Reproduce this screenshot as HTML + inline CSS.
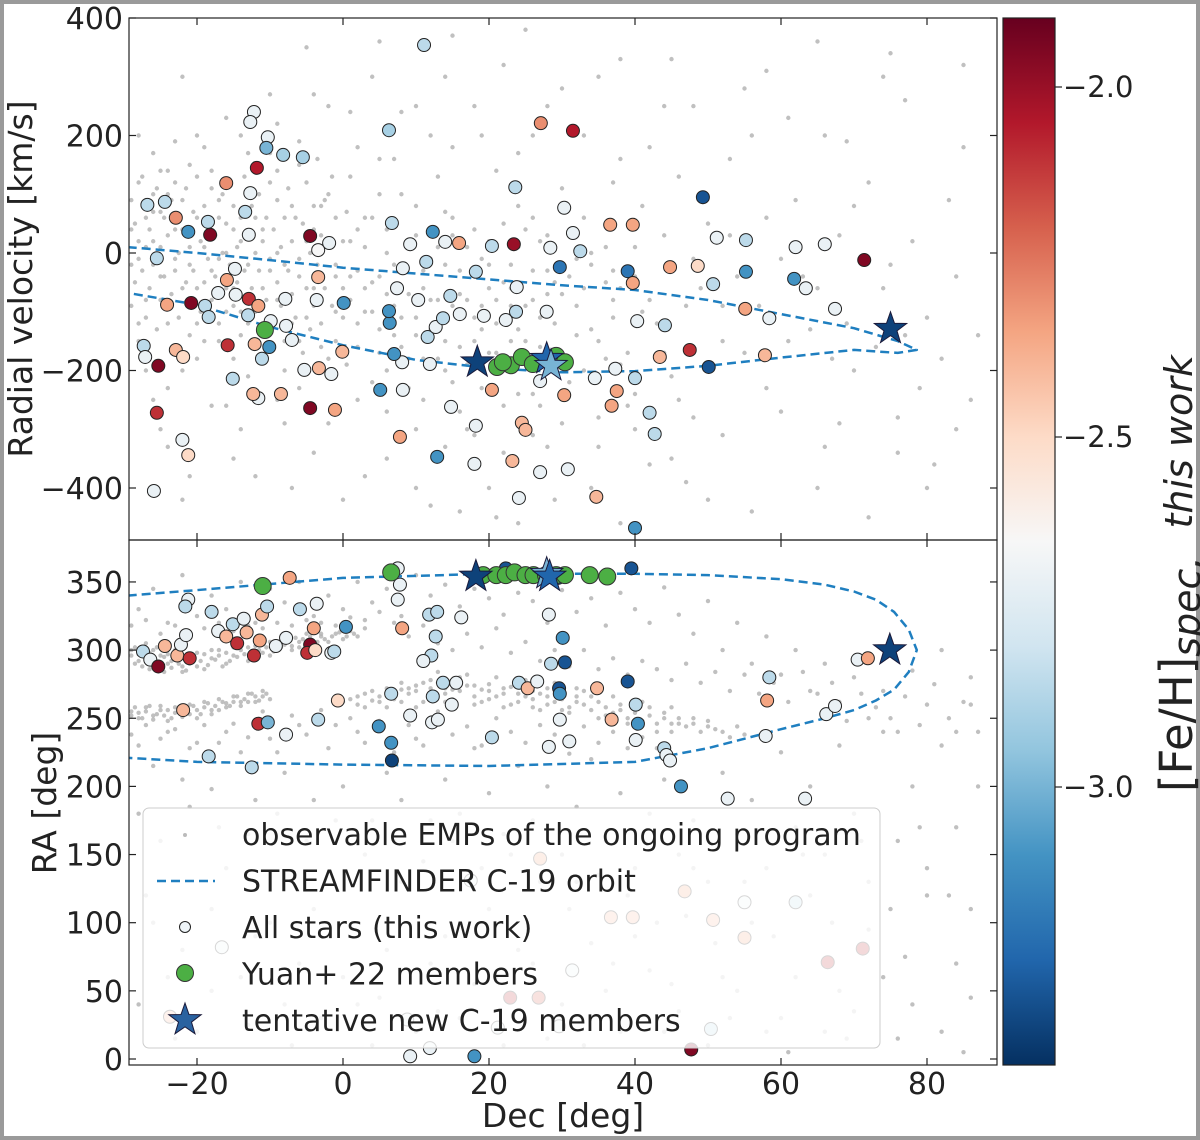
<!DOCTYPE html>
<html><head><meta charset="utf-8"><style>
html,body{margin:0;padding:0;background:#fff}
#wrap{width:1200px;height:1140px;position:relative;box-sizing:border-box;border:4px solid #9a9a9a;background:#fff}
svg{position:absolute;left:-4px;top:-4px}
text{font-family:"DejaVu Sans","Liberation Sans",sans-serif;fill:#222}
</style></head><body>
<div id="wrap">
<svg id="chart" width="1200" height="1140"></svg>
</div>
<script>
// ---------- data ----------
const xTicks=[-20,0,20,40,60,80];
const rvTicks=[400,200,0,-200,-400];
const raTicks=[350,300,250,200,150,100,50,0];
const cbTicks=[-2.0,-2.5,-3.0];
const cbTickLabels=["\u22122.0","\u22122.5","\u22123.0"];
// top panel coloured stars: [dec, rv, feh]
const topStars=[[11.1,354,-2.85],[-12.2,240,-2.7],[-12.7,223,-2.7],[-10.3,197,-2.7],[-10.5,179,-3.0],[-8.2,167,-2.9],[-5.5,163,-2.9],[-11.8,145,-2.05],[-16,119,-2.3],[-12.7,102,-2.7],[6.3,209,-2.9],[27.1,221,-2.3],[31.5,208,-2.05],[23.6,112,-2.85],[30.3,77,-2.7],[49.3,95,-3.3],[-26.8,82,-2.85],[-24.4,87,-2.85],[-22.9,60,-2.3],[-18.5,53,-2.85],[-21.2,36,-3.1],[-18.2,31,-1.95],[-13.4,70,-2.85],[-12.9,31,-2.7],[-4.5,29,-1.95],[-1.9,17,-2.7],[-3.4,5,-2.65],[6.7,51,-2.85],[12.3,36,-3.1],[9.2,15,-2.7],[14,19,-2.7],[15.9,17,-2.35],[20.4,12,-2.85],[23.4,15,-2.0],[28.4,9,-2.7],[31.5,34,-2.7],[36.6,48,-2.35],[39.7,48,-2.35],[32.5,3,-2.85],[29.7,-24,-3.2],[39,-31,-3.2],[39.7,-51,-2.35],[44.8,-24,-2.35],[48.6,-22,-2.5],[51.2,26,-2.7],[50.7,-53,-2.85],[55.2,22,-2.85],[55.2,-32,-3.1],[62,10,-2.7],[66,15,-2.7],[61.8,-44,-3.1],[63.4,-60,-2.7],[71.4,-12,-1.95],[67.4,-95,-2.7],[58.4,-111,-2.7],[55.1,-95,-2.35],[44.1,-123,-2.85],[40.3,-116,-2.7],[47.5,-165,-2.1],[43.4,-177,-2.4],[57.8,-174,-2.4],[50.1,-194,-3.3],[40,-213,-2.85],[37.3,-197,-2.7],[34.5,-213,-2.7],[37.5,-235,-2.35],[36.8,-260,-2.35],[42,-272,-2.85],[42.7,-308,-2.85],[30.3,-242,-2.35],[27,-218,-2.7],[30.8,-368,-2.7],[27,-373,-2.7],[34.7,-415,-2.4],[24.1,-417,-2.7],[23.2,-354,-2.4],[24.5,-289,-2.4],[25,-301,-2.4],[20.4,-233,-2.35],[18.2,-294,-2.7],[18,-359,-2.7],[12.9,-347,-3.1],[14.8,-262,-2.7],[11.9,-189,-2.7],[5.1,-233,-3.1],[8.2,-233,-2.7],[8.1,-186,-2.7],[7,-172,-3.1],[11.6,-143,-2.85],[12.7,-126,-2.7],[6.4,-119,-3.1],[6.3,-99,-3.1],[7.4,-60,-2.7],[10.3,-80,-2.7],[13.7,-111,-2.85],[16,-104,-2.7],[19.3,-107,-2.7],[22.3,-114,-2.7],[23.7,-100,-2.85],[18.2,-32,-2.85],[23.8,-58,-2.7],[27.9,-100,-2.7],[11.4,-15,-2.85],[8.2,-26,-2.7],[14.7,-73,-2.85],[0.1,-85,-3.1],[-3.4,-41,-2.4],[-3.6,-80,-2.7],[-7.9,-78,-2.7],[-7.8,-124,-2.7],[-9.9,-116,-2.7],[-12.9,-78,-2.1],[-11.6,-90,-2.35],[-13,-106,-2.85],[-14.7,-71,-2.7],[-15.9,-46,-2.35],[-17.1,-68,-2.7],[-14.8,-27,-2.7],[-20.8,-85,-1.95],[-24.1,-88,-2.35],[-18.9,-90,-2.85],[-18.4,-109,-2.85],[-25.5,-9,-2.85],[-27.3,-158,-2.85],[-27.1,-177,-2.7],[-22.9,-165,-2.4],[-21.9,-177,-2.5],[-25.3,-192,-1.95],[-25.5,-272,-2.1],[-22,-318,-2.7],[-21.2,-344,-2.5],[-25.9,-405,-2.7],[-15.8,-157,-2.1],[-12.1,-155,-2.4],[-11.1,-180,-2.85],[-15.1,-214,-2.85],[-11.6,-247,-2.7],[-12.3,-240,-2.4],[-8.5,-240,-2.4],[-10.1,-160,-3.1],[-5.3,-199,-2.7],[-4.5,-264,-1.95],[-1.1,-267,-2.35],[-3.3,-196,-2.4],[-0.1,-168,-2.4],[-1.6,-206,-2.7],[7.8,-313,-2.35],[-7,-148,-2.7],[40,-468,-3.1]];
const topYuan=[[-10.7,-131],[21.1,-194],[23,-191],[24.5,-177],[21.9,-186],[26,-189],[29.2,-175],[30.4,-186]];
const topNew=[[18.4,-186,-3.35],[27.9,-180,-3.25],[28.5,-192,-3.0],[75,-129,-3.35]];
// bottom panel coloured stars: [dec, ra, feh]
const botStars=[[-27.4,299,-2.85],[-26.4,293,-2.7],[-25.3,288,-1.95],[-24.4,303,-2.4],[-22.7,296,-2.4],[-22.2,304,-2.7],[-21.5,311,-2.7],[-21,294,-2.1],[-21.2,337,-2.7],[-18,328,-2.85],[-17.1,314,-2.7],[-16,310,-2.4],[-15.1,319,-2.85],[-14.5,305,-2.1],[-13.6,323,-2.7],[-13.2,313,-2.4],[-12.2,296,-2.1],[-11.4,307,-2.35],[-11.1,326,-2.4],[-9.2,303,-2.7],[-7.8,309,-2.7],[-7.3,353,-2.35],[-5.9,330,-2.85],[-4,316,-2.35],[-4.5,304,-1.95],[-4.9,298,-2.1],[-3.8,300,-2.5],[-1.6,298,-2.7],[-1.2,299,-2.85],[0.4,317,-3.1],[-3.6,334,-2.7],[-10.4,332,-2.85],[-21.6,332,-2.85],[-21.9,256,-2.4],[-11.6,246,-2.1],[-10.3,247,-3.0],[-3.4,249,-2.85],[-7.8,238,-2.7],[-12.5,214,-2.85],[-18.4,222,-2.85],[-0.7,263,-2.5],[4.9,244,-3.1],[6.6,232,-3.1],[6.7,219,-3.35],[6.6,268,-2.85],[7.5,337,-2.7],[7.8,348,-2.7],[7.5,360,-2.7],[8.1,316,-2.35],[11.8,326,-2.85],[12.9,328,-2.85],[12.7,310,-2.85],[12.1,296,-2.85],[11,292,-2.7],[12.3,266,-2.85],[12.2,247,-2.7],[13,249,-2.7],[14.9,260,-2.7],[13.7,276,-2.85],[15.5,276,-2.7],[9.2,252,-2.7],[20.4,236,-2.85],[24.1,276,-2.85],[25.3,272,-2.4],[26.6,277,-2.7],[29.6,272,-3.3],[29.7,268,-3.1],[29.7,249,-2.7],[28.2,229,-2.7],[31,233,-2.7],[34.8,272,-2.4],[39,277,-3.3],[36.8,249,-2.4],[40.1,260,-2.85],[40.4,246,-3.1],[40.1,234,-2.7],[44,228,-2.85],[44.3,223,-2.7],[44.8,219,-2.7],[46.3,200,-3.1],[58.1,263,-2.35],[58.4,280,-2.85],[57.9,237,-2.7],[66.2,253,-2.7],[67.4,259,-2.7],[70.5,293,-2.7],[71.9,294,-2.35],[30.1,309,-3.1],[28.5,290,-2.85],[30.4,291,-3.3],[28.2,326,-2.7],[16.2,324,-2.7],[39.5,360,-3.3],[22.3,360,-3.3],[29.5,353,-3.3],[63.3,191,-2.7],[52.7,191,-2.7],[27,147,-2.35],[17.5,131,-2.7],[46.8,123,-2.35],[55,115,-2.7],[62,115,-2.85],[55,89,-2.35],[71.2,81,-2.1],[66.4,71,-2.1],[36.7,104,-2.4],[39.7,104,-2.4],[50.7,102,-2.4],[31.4,65,-2.7],[22.9,45,-2.1],[26.8,45,-2.2],[-23.7,31,-2.4],[-16.6,82,-2.7],[50.4,22,-2.85],[47.7,7,-1.95],[9.2,2,-2.7],[18,2,-3.1],[21.2,23,-2.7],[29.6,24,-2.7],[8.8,29,-2.7],[11.9,8,-2.7]];
const botYuan=[[-11,347],[6.6,357],[19.2,355],[21,355],[22.3,355],[23.5,357],[25,355],[26.1,355],[27.8,355],[29.2,355],[30.4,355],[33.8,355],[36.2,354]];
const botNew=[[18.2,354,-3.35],[27.9,356,-3.0],[28.3,354,-3.25],[74.9,300,-3.35]];
// orbit in both panels
const orbitTopDec=[-29.5,-20,-10,0,10,20,30,40,50,60,70,76,78.6,76,70,60,50,40,30,20,10,0,-10,-20,-29.5];
const orbitTopRv=[10,0,-12,-25,-35,-45,-55,-63,-80,-104,-128,-150,-165,-170,-165,-178,-192,-201,-203,-196,-182,-157,-126,-88,-68];
const orbitBotDec=[-29.5,-20,0,20,40,50,60,66,70,73,75.5,77.5,78.6,77.5,75.5,73,70,66,60,50,40,20,0,-20,-29.5];
const orbitBotRa=[340,344,353,356,356,355,352,348,343,337,328,315,300,284,271,263,256,250,242,228,218,215,216,218,221];
// background observable EMPs (dec, value)
const grayTop=[[-28,120],[-27,60],[-26,20],[-25,-40],[-24,100],[-23,-10],[-22,-60],[-21,150],[-20,-120],[-19,10],[-18,-30],[-17,90],[-16,-100],[-15,40],[-14,-140],[-13,-20],[-12,60],[-11,-60],[-10,120],[-9,0],[-8,-200],[-7,80],[-6,-40],[-5,-110],[-4,40],[-3,-160],[-2,100],[-1,-20],[0,-60],[1,20],[2,-120],[3,60],[4,-220],[5,-40],[6,0],[7,-140],[8,100],[9,-70],[10,30],[11,-250],[12,-10],[13,-180],[14,70],[15,-90],[16,-30],[17,-300],[18,40],[19,-130],[20,-60],[21,140],[22,-260],[23,-20],[24,80],[25,-150],[26,-80],[27,20],[28,-330],[29,-50],[30,110],[31,-220],[32,-10],[33,60],[34,-130],[35,-280],[36,10],[37,-80],[38,160],[39,-170],[40,-40],[41,80],[42,-360],[43,-120],[44,30],[45,-210],[46,130],[47,-90],[48,-280],[50,50],[52,-150],[54,-40],[56,200],[58,-230],[60,-10],[62,90],[64,-130],[66,-330],[68,30],[70,-200],[72,120],[74,-60],[76,-280],[78,20],[80,-110],[82,-180],[84,-40],[86,-250],[-28,-150],[-26,-250],[-24,-330],[-22,-420],[-20,200],[-18,-260],[-16,230],[-14,-300],[-12,-380],[-10,270],[-8,-290],[-6,190],[-4,-340],[-2,250],[0,-420],[2,180],[4,300],[6,-350],[8,240],[10,-400],[12,200],[14,300],[16,-440],[18,250],[20,-400],[22,320],[24,-460],[26,200],[30,280],[34,-400],[38,330],[44,250],[50,-420],[58,310],[66,200],[74,300],[80,-400],[-27,-80],[-25,70],[-21,-20],[-17,-150],[-15,-60],[-13,170],[-9,-80],[-7,-120],[-5,20],[-1,-100],[3,-60],[7,-20],[9,-180],[13,10],[17,-80],[19,-10],[23,-90],[27,-110],[29,-200],[31,40],[33,-60],[37,-30],[41,-100],[45,-20],[49,-60],[53,30],[57,-90],[61,-150],[65,-60],[69,-120],[73,-160],[77,-140],[-29,40],[-28,-10],[-27,10],[-26,100],[-25,140],[-24,-120],[-23,40],[-22,-200],[-20,60],[-19,-50],[-18,110],[-17,-10],[-16,0],[-15,-180],[-14,20],[-12,-150],[-11,40],[-10,-30],[-9,90],[-8,-20],[-6,-150],[-4,-60],[-3,80],[-1,60],[1,-40],[2,40],[4,-100],[5,-170],[6,-70],[8,-110],[10,-140],[11,-30],[12,-80],[14,-200],[15,30],[16,-160],[18,-110],[20,-20],[21,-170],[22,-50],[24,-130],[25,40],[26,-240],[28,-30],[30,-70],[32,-140],[34,-20],[36,-180],[38,-60],[40,-240]];
const grayTop2=[[-29,90],[-29,-20],[-29,-90],[-28.5,50],[-28.5,-50],[-28,20],[-28,-120],[-27.5,130],[-27.5,-30],[-27,90],[-27,-110],[-26.5,40],[-26.5,-60],[-26,70],[-26,-20],[-25.5,110],[-25.5,-130],[-25,10],[-25,-80],[-24.5,60],[-24.5,-40],[-24,30],[-24,140],[-23.5,-70],[-23.5,90],[-23,-30],[-23,120],[-22.5,0],[-22.5,-110],[-22,40],[-22,90],[-21.5,-50],[-21.5,110],[-21,10],[-21,-140],[-20.5,70],[-20.5,-30],[-20,-60],[-20,130],[-19.5,20],[-19.5,-100],[-19,80],[-19,-150],[-18.5,-10],[-18.5,60],[-18,-80],[-18,140],[-17.5,30],[-17.5,-40],[-17,-120],[-17,60],[-16.5,0],[-16.5,100],[-16,-60],[-16,50],[-15.5,-20],[-15.5,120],[-15,-90],[-15,80],[-14.5,10],[-14.5,-50],[-14,60],[-14,-100],[-13.5,-30],[-13.5,130],[-13,30],[-13,-120],[-12.5,-60],[-12.5,80],[-12,0],[-12,-100],[-11.5,100],[-11.5,-30],[-11,20],[-11,-140],[-10.5,60],[-10.5,-80],[-10,-10],[-10,170],[-9.5,40],[-9.5,-120],[-9,-50],[-9,140],[-8.5,10],[-8.5,-90],[-8,60],[-8,-150],[-7.5,-30],[-7.5,110],[-7,20],[-7,-70],[-6.5,-110],[-6.5,60],[-6,-10],[-6,150],[-5.5,-170],[-5.5,50],[-5,-60],[-5,120],[-4.5,-130],[-4.5,0],[-4,-90],[-4,80],[-3.5,-20],[-3.5,160],[-3,-120],[-3,30],[-2.5,-60],[-2.5,90],[-2,-180],[-2,10],[-1.5,-90],[-1.5,130],[-1,-40],[-1,-150],[0,20],[0,-110],[0.5,70],[0.5,-190],[1,-80],[1,130],[2,-30],[2,-160],[3,10],[3,-100],[4,60],[4,-50],[5,-130],[5,100],[6,-200],[6,40],[7,-90],[7,160],[8,-30],[8,-160],[9,10],[9,-230],[10,-110],[10,80],[11,-60],[11,-180],[12,30],[12,-130],[13,-80],[13,130],[14,-20],[14,-150],[15,-220],[15,60],[16,-70],[16,-270],[17,10],[17,-190],[18,-150],[18,-40],[19,-90],[19,-230],[20,20],[20,-170],[21,-80],[21,-120],[22,50],[22,-200],[23,-150],[23,-60],[24,10],[24,-240],[25,-90],[25,-190],[26,-30],[26,60],[27,-160],[27,-260],[28,-70],[28,30],[29,-120],[30,-180],[31,-40],[32,-90],[33,-200],[34,0],[35,-150],[36,-50],[37,-110],[38,-190],[39,-260],[40,10],[42,-80],[44,-170],[46,-250],[48,-10],[52,-90],[55,-170],[58,60],[63,-40],[67,-180],[70,80],[75,-20],[79,-230],[83,90],[87,-140],[-28,200],[-26,170],[-23,190],[-19,180],[-14,200],[-9,220],[-4,270],[1,240],[5,160],[10,250],[15,180],[19,200],[24,170],[28,250],[33,200],[37,120],[42,180],[48,250],[53,160],[61,230],[69,190],[77,260],[85,180],[-27,-200],[-24,-230],[-20,-180],[-16,-260],[-13,-210],[-9,-250],[-6,-230],[-2,-290],[2,-250],[6,-270],[10,-300],[14,-330],[18,-310],[22,-340],[26,-310],[30,-290],[35,-330],[40,-300],[45,-350],[52,-310],[60,-270],[68,-290],[76,-340],[84,-300],[-25,-300],[-21,-380],[-15,-350],[-7,-400],[3,-380],[12,-430],[21,-450],[29,-420],[38,-460],[47,-390],[56,-440],[65,-400],[72,-450],[81,-360],[5,360],[25,380],[45,330],[65,360],[85,320],[-22,300],[-5,350],[15,370],[35,300],[55,280],[75,340]];
const grayBot=[[-29,300],[-28,292],[-27,305],[-26,288],[-25,296],[-24,290],[-23,300],[-22,284],[-21,292],[-20,298],[-19,286],[-18,294],[-17,300],[-16,290],[-15,296],[-14,304],[-13,292],[-12,298],[-11,306],[-10,296],[-9,302],[-8,308],[-7,300],[-6,306],[-5,312],[-4,302],[-3,310],[-2,306],[-1,312],[0,308],[1,314],[2,310],[3,316],[-29,255],[-28,250],[-27,258],[-26,252],[-25,256],[-24,248],[-23,258],[-22,254],[-21,260],[-20,250],[-19,262],[-18,256],[-17,264],[-16,258],[-15,266],[-14,262],[-13,268],[-12,262],[-11,270],[-10,264],[0,262],[2,266],[4,270],[6,272],[8,276],[10,274],[12,278],[14,272],[16,276],[18,274],[20,270],[22,272],[24,268],[26,270],[28,266],[30,264],[32,262],[34,266],[36,258],[38,256],[40,254],[42,258],[44,250],[46,246],[48,250],[50,244],[52,240],[3,258],[5,262],[7,264],[9,268],[11,262],[13,284],[15,264],[17,282],[19,262],[21,280],[23,260],[25,278],[27,256],[29,276],[31,254],[33,270],[35,250],[37,266],[39,246],[41,262],[43,240],[45,258],[-28,230],[-26,215],[-24,240],[-22,205],[-20,232],[-18,198],[-16,240],[-14,225],[-12,190],[-10,235],[-8,210],[-6,245],[-4,190],[-2,228],[0,200],[2,240],[4,175],[6,210],[8,190],[10,235],[12,175],[14,205],[16,180],[18,228],[20,195],[22,165],[24,215],[26,175],[28,200],[30,150],[32,185],[34,220],[36,160],[38,195],[40,140],[42,180],[44,205],[46,150],[48,175],[50,130],[52,210],[54,165],[56,190],[58,140],[60,225],[62,170],[64,200],[66,150],[68,230],[70,180],[72,130],[74,240],[76,160],[78,200],[80,120],[82,230],[84,170],[86,260],[-28,330],[-26,345],[-24,320],[-22,355],[-20,325],[-18,340],[-16,330],[-14,350],[-12,320],[-10,345],[-8,335],[-6,350],[-4,325],[-2,340],[0,330],[2,350],[4,335],[6,345],[8,325],[10,355],[12,340],[14,348],[16,332],[18,345],[20,338],[22,326],[24,342],[26,336],[28,320],[30,344],[32,328],[34,338],[36,318],[38,342],[40,330],[42,320],[44,346],[46,326],[48,312],[50,336],[52,300],[54,320],[56,290],[58,310],[60,282],[62,300],[64,270],[66,290],[68,262],[70,280],[72,250],[74,270],[76,240],[78,285],[80,260],[82,300],[84,240],[86,280],[-27,120],[-24,60],[-20,20],[-16,140],[-12,90],[-8,40],[-4,110],[0,60],[4,10],[8,130],[12,70],[16,30],[20,110],[24,80],[28,15],[32,130],[36,50],[40,90],[44,20],[48,140],[52,60],[56,100],[60,30],[64,120],[68,50],[72,95],[76,15],[80,140],[84,70],[86,110]];
const grayBot2=[[-29,296],[-28.5,290],[-28.5,302],[-28,297],[-27.5,288],[-27.5,300],[-27,294],[-26.5,298],[-26.5,286],[-26,300],[-25.5,291],[-25.5,302],[-25,289],[-24.5,295],[-24.5,284],[-24,297],[-23.5,292],[-23.5,287],[-23,295],[-22.5,290],[-22.5,299],[-22,288],[-21.5,296],[-21.5,285],[-21,290],[-20.5,295],[-20,288],[-19.5,292],[-19,297],[-18.5,289],[-18,300],[-17.5,293],[-17,296],[-16.5,288],[-16,298],[-15.5,292],[-15,302],[-14.5,295],[-14,300],[-13.5,297],[-13,302],[-12.5,294],[-12,303],[-11.5,300],[-11,298],[-10.5,302],[-10,306],[-9.5,299],[-9,305],[-8.5,302],[-8,304],[-7.5,306],[-7,303],[-6.5,309],[-6,302],[-5.5,308],[-5,305],[-4.5,310],[-3.5,306],[-3,312],[-2.5,308],[-1.5,310],[-0.5,313],[0.5,310],[1.5,312],[-29,252],[-28.5,258],[-28,254],[-27.5,250],[-27,255],[-26.5,259],[-26,249],[-25.5,253],[-25,259],[-24.5,252],[-24,256],[-23.5,250],[-23,254],[-22.5,258],[-22,251],[-21.5,256],[-21,253],[-20.5,259],[-20,256],[-19.5,253],[-19,258],[-18.5,261],[-18,253],[-17.5,259],[-17,256],[-16.5,262],[-16,261],[-15.5,259],[-15,262],[-14.5,266],[-14,259],[-13.5,264],[-13,262],[-12.5,268],[-12,266],[-11.5,263],[-11,266],[-10.5,268],[1,264],[2,260],[3,268],[4,263],[5,266],[6,268],[7,270],[8,271],[9,272],[10,270],[11,276],[12,272],[13,276],[14,268],[15,271],[16,270],[17,274],[18,266],[19,271],[20,275],[21,266],[22,268],[23,273],[24,262],[25,266],[26,264],[27,268],[28,260],[29,262],[30,268],[31,258],[32,266],[33,260],[34,256],[35,262],[36,252],[37,254],[38,260],[39,250],[40,258],[41,248],[42,252],[43,246],[44,254],[45,246],[46,250],[47,244],[48,246],[49,240],[50,248],[51,242],[53,236],[54,244],[55,238],[6,258],[8,262],[10,258],[12,266],[14,262],[16,280],[18,260],[20,264],[22,258],[24,275],[26,258],[28,272],[30,256],[32,272],[-29,238],[-27,245],[-25,235],[-23,242],[-21,228],[-19,245],[-17,232],[-15,246],[-13,236],[-11,255],[-9,225],[-7,252],[-5,238],[-3,256],[-1,245],[1,250],[3,232],[5,248],[7,225],[9,245],[11,230],[13,255],[15,238],[17,244],[19,230],[21,250],[23,240],[25,232],[27,245],[29,238],[31,224],[33,244],[35,232],[37,240],[39,228],[41,236],[43,228],[45,240],[-29,318],[-27,322],[-25,312],[-23,318],[-21,310],[-19,316],[-17,320],[-15,314],[-13,318],[-11,316],[-9,320],[-7,318],[-5,322],[-3,320],[-1,318],[1,324],[3,322],[5,328],[7,320],[9,310],[11,318],[13,305],[15,300],[17,312],[19,302],[21,316],[23,298],[25,306],[27,292],[29,300],[31,288],[33,300],[35,286],[37,294],[39,282],[41,292],[43,286],[45,278],[47,290],[49,276],[51,284],[53,270],[55,282],[57,268],[59,276],[61,262],[63,284],[65,268],[67,276],[69,248],[71,268],[73,258],[75,250],[77,266],[79,245],[81,275],[83,250],[85,262],[87,240],[-28,180],[-25,160],[-21,185],[-17,170],[-13,165],[-9,180],[-5,160],[-1,175],[3,150],[7,160],[11,145],[15,160],[19,140],[23,150],[27,130],[31,110],[35,135],[39,120],[43,100],[47,105],[51,85],[55,130],[59,90],[63,150],[67,100],[71,160],[75,110],[79,170],[83,120],[87,200],[-26,100],[-22,80],[-18,110],[-14,60],[-10,100],[-6,70],[-2,90],[2,40],[6,80],[10,20],[14,90],[18,55],[22,10],[26,70],[30,40],[34,85],[38,20],[42,65],[46,35],[50,10],[54,50],[58,20],[62,60],[66,20],[70,35],[74,60],[78,40],[82,20],[86,45],[-28,40],[-23,15],[-18,50],[-13,25],[-7,10],[-3,30],[5,45],[13,35],[21,60],[33,10],[37,70],[45,55],[53,30],[61,5],[69,15],[77,75],[85,5]];

// ---------- scales ----------
const X0=129,X1=997;
const xs=d=>343+(d)*7.3;
const yTop=v=>253-v*0.5875;
const yBot=v=>1059-v*1.363;
const cbY=f=>87+(-2.0-f)*700;
const stops=["#053061","#2166ac","#4393c3","#92c5de","#d1e5f0","#f7f7f7","#fddbc7","#f4a582","#d6604d","#b2182b","#67001f"];
const VMIN=-3.4,VMAX=-1.9;
function hex(h){return [1,3,5].map(i=>parseInt(h.substr(i,2),16));}
function cmap(f){let t=(f-VMIN)/(VMAX-VMIN);t=Math.max(0,Math.min(1,t))*(stops.length-1);const i=Math.min(Math.floor(t),stops.length-2),u=t-i;const a=hex(stops[i]),b=hex(stops[i+1]);return "rgb("+a.map((v,k)=>Math.round(v+(b[k]-v)*u)).join(",")+")";}

const svg=document.getElementById('chart');
const NS="http://www.w3.org/2000/svg";
function mk(tag,attrs,parent){const e=document.createElementNS(NS,tag);for(const k in attrs)e.setAttribute(k,attrs[k]);(parent||svg).appendChild(e);return e;}

const defs=mk('defs',{});
const c1=mk('clipPath',{id:'clipTop'},defs);mk('rect',{x:X0,y:18,width:X1-X0,height:522},c1);
const c2=mk('clipPath',{id:'clipBot'},defs);mk('rect',{x:X0,y:540,width:X1-X0,height:525},c2);
const gr=mk('linearGradient',{id:'cbgrad',x1:0,y1:1,x2:0,y2:0},defs);
stops.forEach((s,i)=>mk('stop',{offset:(i/(stops.length-1)),'stop-color':s},gr));

function starPath(cx,cy,R){const r=R*0.4;let p="";for(let i=0;i<10;i++){const a=-Math.PI/2+i*Math.PI/5;const rr=i%2?r:R;p+=(i?"L":"M")+(cx+rr*Math.cos(a)).toFixed(1)+","+(cy+rr*Math.sin(a)).toFixed(1);}return p+"Z";}

function panel(clip,yf,grays,stars,yuan,news,oDec,oVal,name){
  const g=mk('g',{'clip-path':'url(#'+clip+')'});
  
  
  const gg=mk('g',{fill:'#b0b0b0','fill-opacity':0.8},g);
  
  
  grays.forEach(arr=>arr.forEach(p=>{mk('circle',{cx:xs(p[0]),cy:yf(p[1]),r:2.2},gg);}));
  let d="";oDec.forEach((v,i)=>{d+=(i?"L":"M")+xs(v).toFixed(1)+","+yf(oVal[i]).toFixed(1);});
  const orb=mk('path',{d:d,fill:'none',stroke:'#1f7fc0','stroke-width':2.5,'stroke-dasharray':'9,5','stroke-linejoin':'round'},g);
  
  
  const sg=mk('g',{stroke:'#222','stroke-width':1},g);
  
  
  stars.forEach(p=>{const c=mk('circle',{cx:xs(p[0]),cy:yf(p[1]),r:6.5,fill:cmap(p[2])},sg);
    
    });
  const yg=mk('g',{stroke:'#333','stroke-width':1,fill:'#4caf44'},g);
  
  
  yuan.forEach(p=>{mk('circle',{cx:xs(p[0]),cy:yf(p[1]),r:8.5},yg);});
  const ng=mk('g',{stroke:'#1a1a3a','stroke-width':1},g);
  
  
  news.forEach(p=>{mk('path',{d:starPath(xs(p[0]),yf(p[1]),17),fill:cmap(p[2])},ng);});
}
panel('clipTop',yTop,[grayTop,grayTop2],topStars,topYuan,topNew,orbitTopDec,orbitTopRv,'rv-panel');
panel('clipBot',yBot,[grayBot,grayBot2],botStars,botYuan,botNew,orbitBotDec,orbitBotRa,'ra-panel');

// legend
const lg=mk('g',{});


mk('rect',{x:143,y:808,width:737,height:240,rx:6,fill:'#fff','fill-opacity':0.82,stroke:'#ccc','stroke-width':1},lg);
const legText=["observable EMPs of the ongoing program","STREAMFINDER C-19 orbit","All stars (this work)","Yuan+ 22 members","tentative new C-19 members"];
legText.forEach((t,i)=>{const tx=mk('text',{x:242,y:845+i*46.5,'font-size':30,textLength:null},lg);tx.removeAttribute('textLength');tx.textContent=t;
  
  });
mk('circle',{cx:185,cy:835,r:2,fill:'#bbb'},lg);
mk('line',{x1:157,y1:881,x2:215,y2:881,stroke:'#1f7fc0','stroke-width':2.5,'stroke-dasharray':'9,5'},lg);
mk('circle',{cx:185,cy:927,r:5.5,fill:'#eef4f8',stroke:'#222','stroke-width':1},lg);
mk('circle',{cx:185,cy:973,r:8.5,fill:'#4caf44',stroke:'#333','stroke-width':1},lg);
mk('path',{d:starPath(185,1020,17),fill:'#2a62a0',stroke:'#1a1a3a','stroke-width':1},lg);

// axes frames & ticks
function frame(y0,y1,name){const r=mk('rect',{x:X0,y:y0,width:X1-X0,height:y1-y0,fill:'none',stroke:'#222','stroke-width':1.2});
  
  }
frame(18,540,'rv-panel-frame');frame(540,1065,'ra-panel-frame');
function tick(x1,y1,x2,y2){mk('line',{x1:x1,y1:y1,x2:x2,y2:y2,stroke:'#222','stroke-width':1.2});}
xTicks.forEach(v=>{const x=xs(v);tick(x,540,x,533);tick(x,18,x,25);tick(x,1065,x,1058);tick(x,540,x,547);
  const t=mk('text',{x:x,y:1094,'font-size':30,'text-anchor':'middle'});t.textContent=(v<0?"\u2212":"")+Math.abs(v);
  
  });
rvTicks.forEach(v=>{const y=yTop(v);tick(X0,y,X0+7,y);tick(X1,y,X1-7,y);
  const t=mk('text',{x:123,y:y+11,'font-size':30,'text-anchor':'end'});t.textContent=(v<0?"\u2212":"")+Math.abs(v);
  
  });
raTicks.forEach(v=>{const y=yBot(v);tick(X0,y,X0+7,y);tick(X1,y,X1-7,y);
  const t=mk('text',{x:123,y:y+11,'font-size':30,'text-anchor':'end'});t.textContent=v;
  
  });
let t=mk('text',{x:563,y:1127,'font-size':33,'text-anchor':'middle'});t.textContent="Dec [deg]";


t=mk('text',{x:0,y:0,'font-size':33,'text-anchor':'middle',transform:'translate(32,279) rotate(-90)'});t.textContent="Radial velocity [km/s]";


t=mk('text',{x:0,y:0,'font-size':33,'text-anchor':'middle',transform:'translate(56,803) rotate(-90)'});t.textContent="RA [deg]";



// colorbar
const cb=mk('rect',{x:1003,y:18,width:52,height:1047,fill:'url(#cbgrad)',stroke:'#222','stroke-width':1.2});


cbTicks.forEach((v,i)=>{const y=cbY(v);tick(1055,y,1062,y);
  const tt=mk('text',{x:1063,y:y+10,'font-size':29});tt.textContent=cbTickLabels[i];
  
  });
const cl=mk('text',{x:0,y:0,'font-size':45,'text-anchor':'start',transform:'translate(1192,792) rotate(-90)'});


const s1=mk('tspan',{},cl);s1.textContent="[Fe/H]";
const s2=mk('tspan',{'font-size':38,'font-style':'italic',dy:8},cl);s2.textContent="spec,";
const s3=mk('tspan',{'font-size':38,'font-style':'italic',dy:-8,dx:28},cl);s3.textContent="this work";
</script>
</body></html>
